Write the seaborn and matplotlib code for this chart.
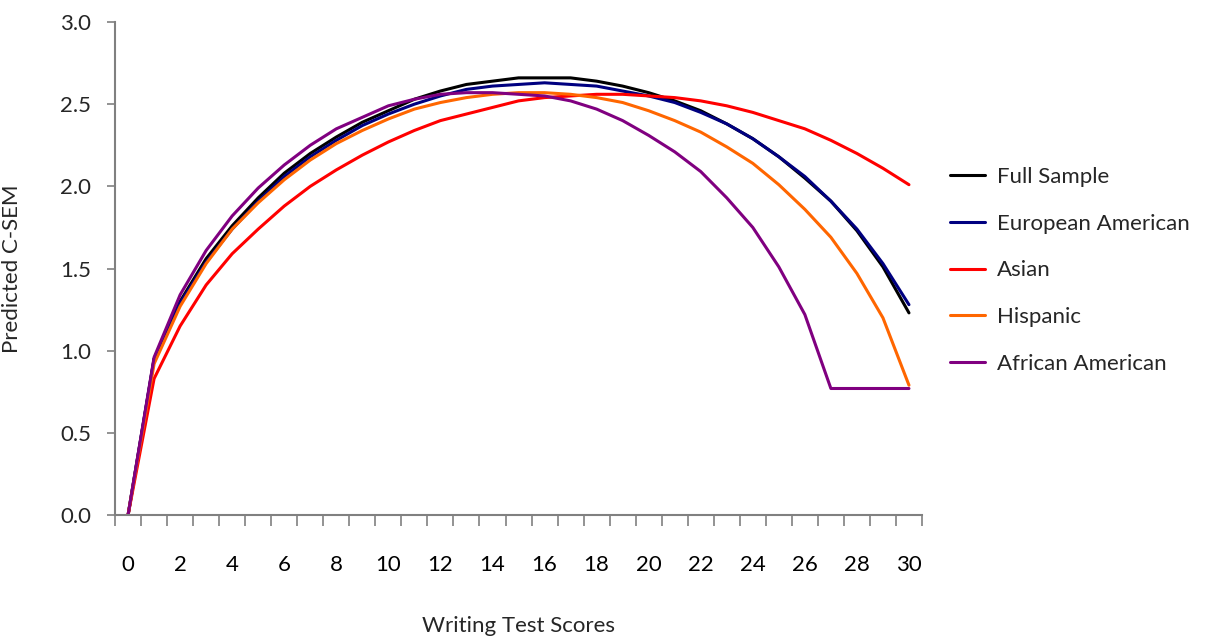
import numpy as np
import pandas as pd
import matplotlib
matplotlib.use("Agg")
import matplotlib.pyplot as plt
from matplotlib.ticker import FixedLocator
import seaborn as sns

scores = list(range(31))
full_sample = [0.00, 0.95, 1.30, 1.56, 1.76, 1.93, 2.08, 2.20, 2.30, 2.39, 2.46, 2.53, 2.58, 2.62,
               2.64, 2.66, 2.66, 2.66, 2.64, 2.61, 2.57, 2.52, 2.46, 2.38, 2.29, 2.18, 2.05, 1.91,
               1.73, 1.51, 1.23]
european_american = [0.00, 0.95, 1.29, 1.54, 1.74, 1.91, 2.06, 2.18, 2.28, 2.37, 2.44, 2.50, 2.55,
                     2.59, 2.61, 2.62, 2.63, 2.62, 2.61, 2.58, 2.55, 2.51, 2.45, 2.38, 2.29, 2.18,
                     2.06, 1.91, 1.74, 1.53, 1.28]
asian = [0.00, 0.83, 1.15, 1.40, 1.59, 1.74, 1.88, 2.00, 2.10, 2.19, 2.27, 2.34, 2.40, 2.44, 2.48,
         2.52, 2.54, 2.55, 2.56, 2.56, 2.55, 2.54, 2.52, 2.49, 2.45, 2.40, 2.35, 2.28, 2.20, 2.11,
         2.01]
hispanic = [0.00, 0.92, 1.27, 1.53, 1.74, 1.90, 2.04, 2.16, 2.26, 2.34, 2.41, 2.47, 2.51, 2.54,
            2.56, 2.57, 2.57, 2.56, 2.54, 2.51, 2.46, 2.40, 2.33, 2.24, 2.14, 2.01, 1.86, 1.69,
            1.47, 1.20, 0.79]
african_american = [0.00, 0.96, 1.34, 1.61, 1.82, 1.99, 2.13, 2.25, 2.35, 2.42, 2.49, 2.53, 2.56,
                    2.57, 2.57, 2.56, 2.55, 2.52, 2.47, 2.40, 2.31, 2.21, 2.09, 1.93, 1.75, 1.51,
                    1.22, 0.77, 0.77, 0.77, 0.77]

groups = ["Full Sample", "European American", "Asian", "Hispanic", "African American"]
colors = ["#000000", "#000080", "#FF0000", "#FF6600", "#800080"]
series = [full_sample, european_american, asian, hispanic, african_american]

df = pd.concat([pd.DataFrame({"score": scores, "csem": vals, "group": g})
                for g, vals in zip(groups, series)], ignore_index=True)

sns.set_style("ticks")
plt.rcParams["font.family"] = ["Lato", "DejaVu Sans"]
FS = 16

fig = plt.figure(figsize=(12.06, 6.43), dpi=100)
ax = fig.add_axes([0.0954, 0.199, 0.6691, 0.7668])

sns.lineplot(data=df, x="score", y="csem", hue="group", hue_order=groups,
             palette=dict(zip(groups, colors)), linewidth=2.2, ax=ax, legend=True)

ax.set_xlim(-0.5, 30.5)
ax.set_ylim(0, 3.0)
ax.set_yticks(np.arange(0, 3.01, 0.5))
ax.set_yticklabels([f"{v:.1f}" for v in np.arange(0, 3.01, 0.5)])
ax.set_xticks(list(range(0, 31, 2)))
ax.set_xticklabels([str(v) for v in range(0, 31, 2)])
ax.xaxis.set_minor_locator(FixedLocator(np.arange(-0.5, 30.6, 1)))
ax.tick_params(axis="x", which="major", length=0, pad=29, labelsize=FS, colors="black")
ax.tick_params(axis="x", which="minor", length=8, width=1.2, color="#808080", direction="out")
ax.tick_params(axis="y", which="major", length=6, width=1.2, color="#808080", labelsize=FS, pad=11)

for s in ["top", "right"]:
    ax.spines[s].set_visible(False)
for s in ["left", "bottom"]:
    ax.spines[s].set_color("#808080")
    ax.spines[s].set_linewidth(1.5)

ax.set_xlabel("Writing Test Scores", fontsize=FS)
ax.xaxis.set_label_coords(0.5, -0.205)
ax.set_ylabel("Predicted C-SEM", fontsize=FS)
ax.yaxis.set_label_coords(-0.115, 0.5)

handles, labels = ax.get_legend_handles_labels()
ax.legend(handles, labels, loc="upper left", bbox_to_anchor=(1.0235, 0.724), frameon=False,
          fontsize=FS, handlelength=1.6, handletextpad=0.5, labelspacing=1.2, borderaxespad=0)

fig.savefig("out.png", dpi=100)
